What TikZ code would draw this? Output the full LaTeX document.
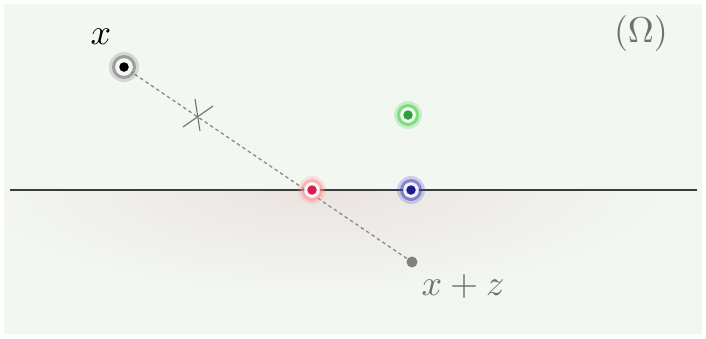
\documentclass[tikz,border=0pt]{standalone}
\usetikzlibrary{calc}
\definecolor{bg}{HTML}{F3F7F2}
\definecolor{shadeclr}{HTML}{EAE3E0}
\definecolor{lineclr}{HTML}{3C3C3C}
\definecolor{dashclr}{HTML}{8A8A8A}
\definecolor{txtgray}{HTML}{707070}
\definecolor{redpt}{RGB}{215,30,80}
\definecolor{bluept}{RGB}{30,30,140}
\definecolor{greenpt}{RGB}{45,160,60}
\tikzset{
  lbl/.style={scale=3.6, inner sep=0pt},
  dotnode/.style={circle, inner sep=0pt, minimum size=9.5pt, fill=#1},
}
\newcommand{\halo}[3]{%
  \fill[#2, opacity=0.22] (#1) circle (#3+3pt);
  \fill[#2, opacity=0.5] (#1) circle (#3);
  \fill[white, opacity=0.9] (#1) circle (#3-3.2pt);
}
\begin{document}
\begin{tikzpicture}[x=1pt,y=-1pt]
\useasboundingbox (0,0) rectangle (706,338);
\fill[white] (0,0) rectangle (706,338);
\fill[bg] (4,4) rectangle (702,334);
\begin{scope}
  \clip (4,190) rectangle (702,334);
  \shade[inner color=shadeclr, outer color=bg] (320,185) ellipse (360pt and 115pt);
\end{scope}
% base line
\coordinate (L) at (10,190);
\coordinate (R) at (697,190);
\draw[lineclr, line width=1.6pt] (L) -- (R);
% point coordinates
\coordinate (px) at (124,67);
\coordinate (pe) at (412,262);
\coordinate (pr) at (312,190);
\coordinate (pb) at (411,190);
\coordinate (pg) at (408,115);
% dashed segment
\draw[dashclr, line width=1.3pt, dash pattern=on 3.5pt off 3pt] (px) -- (pe);
% cross mark
\coordinate (c1) at (183,127);
\coordinate (c2) at (213,106);
\coordinate (c3) at (195,99);
\coordinate (c4) at (200,131);
\draw[txtgray, line width=1.1pt] (c1) -- (c2);
\draw[txtgray, line width=1.1pt] (c3) -- (c4);
% halos
\halo{px}{black!60}{12pt}
\halo{pr}{red!45}{11pt}
\halo{pb}{blue!50!gray}{11pt}
\halo{pg}{green!60!gray}{11pt}
% dots
\node[dotnode=black] (nx) at (px) {};
\node[dotnode=redpt] (nr) at (pr) {};
\node[dotnode=bluept] (nb) at (pb) {};
\node[dotnode=greenpt] (ng) at (pg) {};
\node[dotnode=gray, minimum size=11pt] (ne) at (pe) {};
% labels
\node[lbl] (tx) at (101,37) {$x$};
\node[lbl, text=txtgray] (txz) at (463,286) {$x+z$};
\node[lbl, text=txtgray] (tom) at (641,33) {$(\Omega)$};
\end{tikzpicture}
\end{document}
